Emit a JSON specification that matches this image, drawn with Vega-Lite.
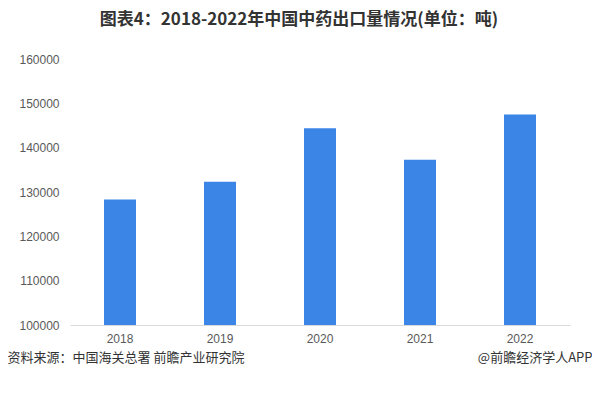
{
  "$schema": "https://vega.github.io/schema/vega-lite/v6.json",
  "width": 500,
  "height": 266,
  "autosize": {"type": "none"},
  "padding": {"left": 70, "top": 59, "right": 22, "bottom": 73},
  "background": "white",
  "config": {"view": {"stroke": null}, "font": "Noto Sans CJK SC"},
  "title": {
    "text": "图表4：2018-2022年中国中药出口量情况(单位：吨)",
    "anchor": "middle",
    "frame": "group",
    "dx": -21,
    "offset": 24,
    "fontSize": 17,
    "fontWeight": "bold",
    "color": "#333333",
    "font": "Noto Sans CJK SC"
  },
  "data": {
    "values": [
      {"year": "2018", "value": 128300},
      {"year": "2019", "value": 132300},
      {"year": "2020", "value": 144400},
      {"year": "2021", "value": 137300},
      {"year": "2022", "value": 147500}
    ]
  },
  "layer": [
    {
      "mark": {"type": "bar", "color": "#3a85e6", "clip": true},
      "encoding": {
        "x": {
          "field": "year",
          "type": "nominal",
          "scale": {"paddingInner": 0.68, "paddingOuter": 0.34},
          "axis": {
            "labelAngle": 0,
            "labelFontSize": 12,
            "labelColor": "#595959",
            "labelFont": "Liberation Sans",
            "labelPadding": 8,
            "ticks": false,
            "domainColor": "#d9d9d9",
            "title": "资料来源：中国海关总署 前瞻产业研究院",
            "titleX": -63,
            "titleY": 32,
            "titleAnchor": "start",
            "titleAlign": "left",
            "titleBaseline": "middle",
            "titleFontSize": 13,
            "titleFontWeight": "normal",
            "titleColor": "#333333"
          }
        },
        "y": {
          "field": "value",
          "type": "quantitative",
          "scale": {"domain": [100000, 160000], "nice": false, "zero": false},
          "axis": {
            "values": [100000, 110000, 120000, 130000, 140000, 150000, 160000],
            "format": "d",
            "grid": false,
            "domain": false,
            "ticks": false,
            "labelPadding": 11,
            "labelFontSize": 12,
            "labelColor": "#595959",
            "labelFont": "Liberation Sans",
            "title": null
          }
        }
      }
    },
    {
      "mark": {"type": "rule", "opacity": 0},
      "encoding": {
        "x": {
          "field": "year",
          "type": "nominal",
          "axis": {
            "orient": "bottom",
            "labels": false,
            "ticks": false,
            "domain": false,
            "title": "@前瞻经济学人APP",
            "titleX": 522,
            "titleY": 32,
            "titleAnchor": "end",
            "titleAlign": "right",
            "titleBaseline": "middle",
            "titleFontSize": 13,
            "titleFontWeight": "normal",
            "titleColor": "#333333"
          }
        }
      }
    }
  ],
  "resolve": {"axis": {"x": "independent"}}
}
